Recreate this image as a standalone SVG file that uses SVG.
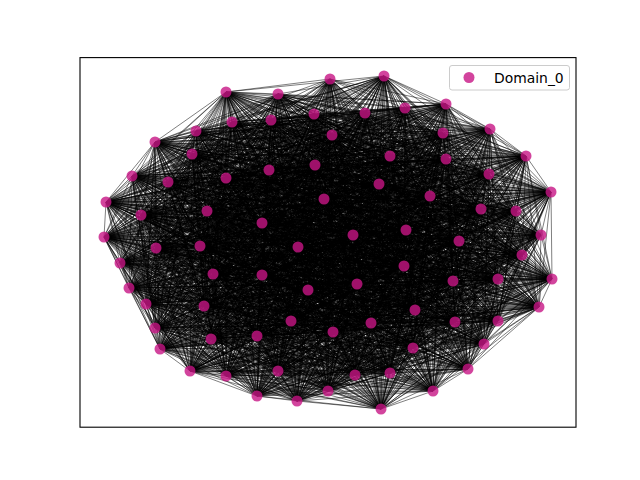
<svg xmlns="http://www.w3.org/2000/svg" width="640" height="480" viewBox="0 0 640 480">
<style>
.e{fill:none;stroke:#000;stroke-opacity:.5;stroke-width:1;stroke-linejoin:round}
.n{fill:#c71585;fill-opacity:.8}
.t{font-family:"DejaVu Sans","Liberation Sans",sans-serif;font-size:13.9px;fill:#000}
</style>
<rect width="640" height="480" fill="#fff"/>
<g id="edges">
<path class="e" d="M330 79 226 92 384 76 278 94 226 92 446 104 278 94 405 108 446 104 365 113 405 108 314 114 365 113 271 120 314 114 232 122 271 120 490 129 232 122 196 131 490 129 332 135 196 131 443 133 332 135 155 142 443 133 192 154 155 142 390 156 192 154 446 159 390 156 526 156 446 159 315 165 526 156 269 170 315 165 489 174 269 170 132 176 489 174 226 178 132 176 168 182 226 178 379 184 168 182 551 192 379 184 430 196 551 192 324 199 430 196 106 202 324 199 481 209 106 202 516 211 481 209 207 211 516 211 141 215 207 211 262 223 141 215 406 230 262 223 353 235 406 230 541 235 353 235 104 237 541 235 459 241 104 237 200 246 459 241 156 248 200 246 298 247 156 248 522 255 298 247 120 263 522 255 404 266 120 263 213 274 404 266 262 275 213 274 552 279 262 275 498 279 552 279 453 281 498 279 357 284 453 281 129 288 357 284 308 290 129 288 146 304 308 290 204 306 146 304 539 307 204 306 415 310 539 307 498 321 415 310 455 322 498 321 371 323 455 322 291 321 371 323 155 328 291 321 333 332 155 328 257 336 333 332 211 339 257 336 484 344 211 339 413 348 484 344 160 349 413 348 468 369 160 349 190 371 468 369 278 371 190 371 355 375 278 371 390 373 355 375 226 376 390 373 433 391 226 376 328 391 433 391 257 396 328 391 297 401 257 396 381 409 297 401 330 79 381 409 384 76"/>
<path class="e" d="M330 79 446 104 384 76 405 108 226 92 365 113 278 94 314 114 446 104 271 120 405 108 232 122 365 113 490 129 314 114 196 131 271 120 332 135 232 122 443 133 490 129 155 142 196 131 192 154 332 135 390 156 443 133 446 159 155 142 526 156 192 154 315 165 390 156 269 170 446 159 489 174 526 156 132 176 315 165 226 178 269 170 168 182 489 174 379 184 132 176 551 192 226 178 430 196 168 182 324 199 379 184 106 202 551 192 481 209 430 196 516 211 324 199 207 211 106 202 141 215 481 209 262 223 516 211 406 230 207 211 353 235 141 215 541 235 262 223 104 237 406 230 459 241 353 235 200 246 541 235 156 248 104 237 298 247 459 241 522 255 200 246 120 263 156 248 404 266 298 247 213 274 522 255 262 275 120 263 552 279 404 266 498 279 213 274 453 281 262 275 357 284 552 279 129 288 498 279 308 290 453 281 146 304 357 284 204 306 129 288 539 307 308 290 415 310 146 304 498 321 204 306 455 322 539 307 371 323 415 310 291 321 498 321 155 328 455 322 333 332 371 323 257 336 291 321 211 339 155 328 484 344 333 332 413 348 257 336 160 349 211 339 468 369 484 344 190 371 413 348 278 371 160 349 355 375 468 369 390 373 190 371 226 376 278 371 433 391 355 375 328 391 390 373 257 396 226 376 297 401 433 391 381 409 328 391 330 79 257 396 384 76 297 401 226 92 381 409 278 94"/>
<path class="e" d="M330 79 365 113 384 76 314 114 226 92 271 120 278 94 232 122 446 104 490 129 405 108 196 131 365 113 332 135 314 114 443 133 271 120 155 142 232 122 192 154 490 129 390 156 196 131 446 159 332 135 526 156 443 133 315 165 155 142 269 170 192 154 489 174 390 156 132 176 446 159 226 178 526 156 168 182 315 165 379 184 269 170 551 192 489 174 430 196 132 176 324 199 226 178 106 202 168 182 481 209 379 184 516 211 551 192 207 211 430 196 141 215 324 199 262 223 106 202 406 230 481 209 353 235 516 211 541 235 207 211 104 237 141 215 459 241 262 223 200 246 406 230 156 248 353 235 298 247 541 235 522 255 104 237 120 263 459 241 404 266 200 246 213 274 156 248 262 275 298 247 552 279 522 255 498 279 120 263 453 281 404 266 357 284 213 274 129 288 262 275 308 290 552 279 146 304 498 279 204 306 453 281 539 307 357 284 415 310 129 288 498 321 308 290 455 322 146 304 371 323 204 306 291 321 539 307 155 328 415 310 333 332 498 321 257 336 455 322 211 339 371 323 484 344 291 321 413 348 155 328 160 349 333 332 468 369 257 336 190 371 211 339 278 371 484 344 355 375 413 348 390 373 160 349 226 376 468 369 433 391 190 371 328 391 278 371 257 396 355 375 297 401 390 373 381 409 226 376 330 79 433 391 384 76 328 391 226 92 257 396 278 94 297 401 446 104 381 409 405 108"/>
<path class="e" d="M330 79 271 120 384 76 232 122 226 92 490 129 278 94 196 131 446 104 332 135 405 108 443 133 365 113 155 142 314 114 192 154 271 120 390 156 232 122 446 159 490 129 526 156 196 131 315 165 332 135 269 170 443 133 489 174 155 142 132 176 192 154 226 178 390 156 168 182 446 159 379 184 526 156 551 192 315 165 430 196 269 170 324 199 489 174 106 202 132 176 481 209 226 178 516 211 168 182 207 211 379 184 141 215 551 192 262 223 430 196 406 230 324 199 353 235 106 202 541 235 481 209 104 237 516 211 459 241 207 211 200 246 141 215 156 248 262 223 298 247 406 230 522 255 353 235 120 263 541 235 404 266 104 237 213 274 459 241 262 275 200 246 552 279 156 248 498 279 298 247 453 281 522 255 357 284 120 263 129 288 404 266 308 290 213 274 146 304 262 275 204 306 552 279 539 307 498 279 415 310 453 281 498 321 357 284 455 322 129 288 371 323 308 290 291 321 146 304 155 328 204 306 333 332 539 307 257 336 415 310 211 339 498 321 484 344 455 322 413 348 371 323 160 349 291 321 468 369 155 328 190 371 333 332 278 371 257 336 355 375 211 339 390 373 484 344 226 376 413 348 433 391 160 349 328 391 468 369 257 396 190 371 297 401 278 371 381 409 355 375 330 79 390 373 384 76 226 376 226 92 433 391 278 94 328 391 446 104 257 396 405 108 297 401 365 113 381 409 314 114"/>
<path class="e" d="M330 79 490 129 384 76 196 131 226 92 332 135 278 94 443 133 446 104 155 142 405 108 192 154 365 113 390 156 314 114 446 159 271 120 526 156 232 122 315 165 490 129 269 170 196 131 489 174 332 135 132 176 443 133 226 178 155 142 168 182 192 154 379 184 390 156 551 192 446 159 430 196 526 156 324 199 315 165 106 202 269 170 481 209 489 174 516 211 132 176 207 211 226 178 141 215 168 182 262 223 379 184 406 230 551 192 353 235 430 196 541 235 324 199 104 237 106 202 459 241 481 209 200 246 516 211 156 248 207 211 298 247 141 215 522 255 262 223 120 263 406 230 404 266 353 235 213 274 541 235 262 275 104 237 552 279 459 241 498 279 200 246 453 281 156 248 357 284 298 247 129 288 522 255 308 290 120 263 146 304 404 266 204 306 213 274 539 307 262 275 415 310 552 279 498 321 498 279 455 322 453 281 371 323 357 284 291 321 129 288 155 328 308 290 333 332 146 304 257 336 204 306 211 339 539 307 484 344 415 310 413 348 498 321 160 349 455 322 468 369 371 323 190 371 291 321 278 371 155 328 355 375 333 332 390 373 257 336 226 376 211 339 433 391 484 344 328 391 413 348 257 396 160 349 297 401 468 369 381 409 190 371 330 79 278 371 384 76 355 375 226 92 390 373 278 94 226 376 446 104 433 391 405 108 328 391 365 113 257 396 314 114 297 401 271 120 381 409 232 122"/>
<path class="e" d="M330 79 332 135 384 76 443 133 226 92 155 142 278 94 192 154 446 104 390 156 405 108 446 159 365 113 526 156 314 114 315 165 271 120 269 170 232 122 489 174 490 129 132 176 196 131 226 178 332 135 168 182 443 133 379 184 155 142 551 192 192 154 430 196 390 156 324 199 446 159 106 202 526 156 481 209 315 165 516 211 269 170 207 211 489 174 141 215 132 176 262 223 226 178 406 230 168 182 353 235 379 184 541 235 551 192 104 237 430 196 459 241 324 199 200 246 106 202 156 248 481 209 298 247 516 211 522 255 207 211 120 263 141 215 404 266 262 223 213 274 406 230 262 275 353 235 552 279 541 235 498 279 104 237 453 281 459 241 357 284 200 246 129 288 156 248 308 290 298 247 146 304 522 255 204 306 120 263 539 307 404 266 415 310 213 274 498 321 262 275 455 322 552 279 371 323 498 279 291 321 453 281 155 328 357 284 333 332 129 288 257 336 308 290 211 339 146 304 484 344 204 306 413 348 539 307 160 349 415 310 468 369 498 321 190 371 455 322 278 371 371 323 355 375 291 321 390 373 155 328 226 376 333 332 433 391 257 336 328 391 211 339 257 396 484 344 297 401 413 348 381 409 160 349 330 79 468 369 384 76 190 371 226 92 278 371 278 94 355 375 446 104 390 373 405 108 226 376 365 113 433 391 314 114 328 391 271 120 257 396 232 122 297 401 490 129 381 409 196 131"/>
<path class="e" d="M330 79 155 142 384 76 192 154 226 92 390 156 278 94 446 159 446 104 526 156 405 108 315 165 365 113 269 170 314 114 489 174 271 120 132 176 232 122 226 178 490 129 168 182 196 131 379 184 332 135 551 192 443 133 430 196 155 142 324 199 192 154 106 202 390 156 481 209 446 159 516 211 526 156 207 211 315 165 141 215 269 170 262 223 489 174 406 230 132 176 353 235 226 178 541 235 168 182 104 237 379 184 459 241 551 192 200 246 430 196 156 248 324 199 298 247 106 202 522 255 481 209 120 263 516 211 404 266 207 211 213 274 141 215 262 275 262 223 552 279 406 230 498 279 353 235 453 281 541 235 357 284 104 237 129 288 459 241 308 290 200 246 146 304 156 248 204 306 298 247 539 307 522 255 415 310 120 263 498 321 404 266 455 322 213 274 371 323 262 275 291 321 552 279 155 328 498 279 333 332 453 281 257 336 357 284 211 339 129 288 484 344 308 290 413 348 146 304 160 349 204 306 468 369 539 307 190 371 415 310 278 371 498 321 355 375 455 322 390 373 371 323 226 376 291 321 433 391 155 328 328 391 333 332 257 396 257 336 297 401 211 339 381 409 484 344 330 79 413 348 384 76 160 349 226 92 468 369 278 94 190 371 446 104 278 371 405 108 355 375 365 113 390 373 314 114 226 376 271 120 433 391 232 122 328 391 490 129 257 396 196 131 297 401 332 135 381 409 443 133"/>
<path class="e" d="M330 79 390 156 384 76 446 159 226 92 526 156 278 94 315 165 446 104 269 170 405 108 489 174 365 113 132 176 314 114 226 178 271 120 168 182 232 122 379 184 490 129 551 192 196 131 430 196 332 135 324 199 443 133 106 202 155 142 481 209 192 154 516 211 390 156 207 211 446 159 141 215 526 156 262 223 315 165 406 230 269 170 353 235 489 174 541 235 132 176 104 237 226 178 459 241 168 182 200 246 379 184 156 248 551 192 298 247 430 196 522 255 324 199 120 263 106 202 404 266 481 209 213 274 516 211 262 275 207 211 552 279 141 215 498 279 262 223 453 281 406 230 357 284 353 235 129 288 541 235 308 290 104 237 146 304 459 241 204 306 200 246 539 307 156 248 415 310 298 247 498 321 522 255 455 322 120 263 371 323 404 266 291 321 213 274 155 328 262 275 333 332 552 279 257 336 498 279 211 339 453 281 484 344 357 284 413 348 129 288 160 349 308 290 468 369 146 304 190 371 204 306 278 371 539 307 355 375 415 310 390 373 498 321 226 376 455 322 433 391 371 323 328 391 291 321 257 396 155 328 297 401 333 332 381 409 257 336 330 79 211 339 384 76 484 344 226 92 413 348 278 94 160 349 446 104 468 369 405 108 190 371 365 113 278 371 314 114 355 375 271 120 390 373 232 122 226 376 490 129 433 391 196 131 328 391 332 135 257 396 443 133 297 401 155 142 381 409 192 154"/>
<path class="e" d="M330 79 526 156 384 76 315 165 226 92 269 170 278 94 489 174 446 104 132 176 405 108 226 178 365 113 168 182 314 114 379 184 271 120 551 192 232 122 430 196 490 129 324 199 196 131 106 202 332 135 481 209 443 133 516 211 155 142 207 211 192 154 141 215 390 156 262 223 446 159 406 230 526 156 353 235 315 165 541 235 269 170 104 237 489 174 459 241 132 176 200 246 226 178 156 248 168 182 298 247 379 184 522 255 551 192 120 263 430 196 404 266 324 199 213 274 106 202 262 275 481 209 552 279 516 211 498 279 207 211 453 281 141 215 357 284 262 223 129 288 406 230 308 290 353 235 146 304 541 235 204 306 104 237 539 307 459 241 415 310 200 246 498 321 156 248 455 322 298 247 371 323 522 255 291 321 120 263 155 328 404 266 333 332 213 274 257 336 262 275 211 339 552 279 484 344 498 279 413 348 453 281 160 349 357 284 468 369 129 288 190 371 308 290 278 371 146 304 355 375 204 306 390 373 539 307 226 376 415 310 433 391 498 321 328 391 455 322 257 396 371 323 297 401 291 321 381 409 155 328 330 79 333 332 384 76 257 336 226 92 211 339 278 94 484 344 446 104 413 348 405 108 160 349 365 113 468 369 314 114 190 371 271 120 278 371 232 122 355 375 490 129 390 373 196 131 226 376 332 135 433 391 443 133 328 391 155 142 257 396 192 154 297 401 390 156 381 409 446 159"/>
<path class="e" d="M330 79 269 170 384 76 489 174 226 92 132 176 278 94 226 178 446 104 168 182 405 108 379 184 365 113 551 192 314 114 430 196 271 120 324 199 232 122 106 202 490 129 481 209 196 131 516 211 332 135 207 211 443 133 141 215 155 142 262 223 192 154 406 230 390 156 353 235 446 159 541 235 526 156 104 237 315 165 459 241 269 170 200 246 489 174 156 248 132 176 298 247 226 178 522 255 168 182 120 263 379 184 404 266 551 192 213 274 430 196 262 275 324 199 552 279 106 202 498 279 481 209 453 281 516 211 357 284 207 211 129 288 141 215 308 290 262 223 146 304 406 230 204 306 353 235 539 307 541 235 415 310 104 237 498 321 459 241 455 322 200 246 371 323 156 248 291 321 298 247 155 328 522 255 333 332 120 263 257 336 404 266 211 339 213 274 484 344 262 275 413 348 552 279 160 349 498 279 468 369 453 281 190 371 357 284 278 371 129 288 355 375 308 290 390 373 146 304 226 376 204 306 433 391 539 307 328 391 415 310 257 396 498 321 297 401 455 322 381 409 371 323 330 79 291 321 384 76 155 328 226 92 333 332 278 94 257 336 446 104 211 339 405 108 484 344 365 113 413 348 314 114 160 349 271 120 468 369 232 122 190 371 490 129 278 371 196 131 355 375 332 135 390 373 443 133 226 376 155 142 433 391 192 154 328 391 390 156 257 396 446 159 297 401 526 156 381 409 315 165"/>
<path class="e" d="M330 79 132 176 384 76 226 178 226 92 168 182 278 94 379 184 446 104 551 192 405 108 430 196 365 113 324 199 314 114 106 202 271 120 481 209 232 122 516 211 490 129 207 211 196 131 141 215 332 135 262 223 443 133 406 230 155 142 353 235 192 154 541 235 390 156 104 237 446 159 459 241 526 156 200 246 315 165 156 248 269 170 298 247 489 174 522 255 132 176 120 263 226 178 404 266 168 182 213 274 379 184 262 275 551 192 552 279 430 196 498 279 324 199 453 281 106 202 357 284 481 209 129 288 516 211 308 290 207 211 146 304 141 215 204 306 262 223 539 307 406 230 415 310 353 235 498 321 541 235 455 322 104 237 371 323 459 241 291 321 200 246 155 328 156 248 333 332 298 247 257 336 522 255 211 339 120 263 484 344 404 266 413 348 213 274 160 349 262 275 468 369 552 279 190 371 498 279 278 371 453 281 355 375 357 284 390 373 129 288 226 376 308 290 433 391 146 304 328 391 204 306 257 396 539 307 297 401 415 310 381 409 498 321 330 79 455 322 384 76 371 323 226 92 291 321 278 94 155 328 446 104 333 332 405 108 257 336 365 113 211 339 314 114 484 344 271 120 413 348 232 122 160 349 490 129 468 369 196 131 190 371 332 135 278 371 443 133 355 375 155 142 390 373 192 154 226 376 390 156 433 391 446 159 328 391 526 156 257 396 315 165 297 401 269 170 381 409 489 174"/>
<path class="e" d="M330 79 168 182 384 76 379 184 226 92 551 192 278 94 430 196 446 104 324 199 405 108 106 202 365 113 481 209 314 114 516 211 271 120 207 211 232 122 141 215 490 129 262 223 196 131 406 230 332 135 353 235 443 133 541 235 155 142 104 237 192 154 459 241 390 156 200 246 446 159 156 248 526 156 298 247 315 165 522 255 269 170 120 263 489 174 404 266 132 176 213 274 226 178 262 275 168 182 552 279 379 184 498 279 551 192 453 281 430 196 357 284 324 199 129 288 106 202 308 290 481 209 146 304 516 211 204 306 207 211 539 307 141 215 415 310 262 223 498 321 406 230 455 322 353 235 371 323 541 235 291 321 104 237 155 328 459 241 333 332 200 246 257 336 156 248 211 339 298 247 484 344 522 255 413 348 120 263 160 349 404 266 468 369 213 274 190 371 262 275 278 371 552 279 355 375 498 279 390 373 453 281 226 376 357 284 433 391 129 288 328 391 308 290 257 396 146 304 297 401 204 306 381 409 539 307 330 79 415 310 384 76 498 321 226 92 455 322 278 94 371 323 446 104 291 321 405 108 155 328 365 113 333 332 314 114 257 336 271 120 211 339 232 122 484 344 490 129 413 348 196 131 160 349 332 135 468 369 443 133 190 371 155 142 278 371 192 154 355 375 390 156 390 373 446 159 226 376 526 156 433 391 315 165 328 391 269 170 257 396 489 174 297 401 132 176 381 409 226 178"/>
<path class="e" d="M330 79 551 192 384 76 430 196 226 92 324 199 278 94 106 202 446 104 481 209 405 108 516 211 365 113 207 211 314 114 141 215 271 120 262 223 232 122 406 230 490 129 353 235 196 131 541 235 332 135 104 237 443 133 459 241 155 142 200 246 192 154 156 248 390 156 298 247 446 159 522 255 526 156 120 263 315 165 404 266 269 170 213 274 489 174 262 275 132 176 552 279 226 178 498 279 168 182 453 281 379 184 357 284 551 192 129 288 430 196 308 290 324 199 146 304 106 202 204 306 481 209 539 307 516 211 415 310 207 211 498 321 141 215 455 322 262 223 371 323 406 230 291 321 353 235 155 328 541 235 333 332 104 237 257 336 459 241 211 339 200 246 484 344 156 248 413 348 298 247 160 349 522 255 468 369 120 263 190 371 404 266 278 371 213 274 355 375 262 275 390 373 552 279 226 376 498 279 433 391 453 281 328 391 357 284 257 396 129 288 297 401 308 290 381 409 146 304 330 79 204 306 384 76 539 307 226 92 415 310 278 94 498 321 446 104 455 322 405 108 371 323 365 113 291 321 314 114 155 328 271 120 333 332 232 122 257 336 490 129 211 339 196 131 484 344 332 135 413 348 443 133 160 349 155 142 468 369 192 154 190 371 390 156 278 371 446 159 355 375 526 156 390 373 315 165 226 376 269 170 433 391 489 174 328 391 132 176 257 396 226 178 297 401 168 182 381 409 379 184"/>
<path class="e" d="M330 79 324 199 384 76 106 202 226 92 481 209 278 94 516 211 446 104 207 211 405 108 141 215 365 113 262 223 314 114 406 230 271 120 353 235 232 122 541 235 490 129 104 237 196 131 459 241 332 135 200 246 443 133 156 248 155 142 298 247 192 154 522 255 390 156 120 263 446 159 404 266 526 156 213 274 315 165 262 275 269 170 552 279 489 174 498 279 132 176 453 281 226 178 357 284 168 182 129 288 379 184 308 290 551 192 146 304 430 196 204 306 324 199 539 307 106 202 415 310 481 209 498 321 516 211 455 322 207 211 371 323 141 215 291 321 262 223 155 328 406 230 333 332 353 235 257 336 541 235 211 339 104 237 484 344 459 241 413 348 200 246 160 349 156 248 468 369 298 247 190 371 522 255 278 371 120 263 355 375 404 266 390 373 213 274 226 376 262 275 433 391 552 279 328 391 498 279 257 396 453 281 297 401 357 284 381 409 129 288 330 79 308 290 384 76 146 304 226 92 204 306 278 94 539 307 446 104 415 310 405 108 498 321 365 113 455 322 314 114 371 323 271 120 291 321 232 122 155 328 490 129 333 332 196 131 257 336 332 135 211 339 443 133 484 344 155 142 413 348 192 154 160 349 390 156 468 369 446 159 190 371 526 156 278 371 315 165 355 375 269 170 390 373 489 174 226 376 132 176 433 391 226 178 328 391 168 182 257 396 379 184 297 401 551 192 381 409 430 196"/>
<path class="e" d="M330 79 481 209 384 76 516 211 226 92 207 211 278 94 141 215 446 104 262 223 405 108 406 230 365 113 353 235 314 114 541 235 271 120 104 237 232 122 459 241 490 129 200 246 196 131 156 248 332 135 298 247 443 133 522 255 155 142 120 263 192 154 404 266 390 156 213 274 446 159 262 275 526 156 552 279 315 165 498 279 269 170 453 281 489 174 357 284 132 176 129 288 226 178 308 290 168 182 146 304 379 184 204 306 551 192 539 307 430 196 415 310 324 199 498 321 106 202 455 322 481 209 371 323 516 211 291 321 207 211 155 328 141 215 333 332 262 223 257 336 406 230 211 339 353 235 484 344 541 235 413 348 104 237 160 349 459 241 468 369 200 246 190 371 156 248 278 371 298 247 355 375 522 255 390 373 120 263 226 376 404 266 433 391 213 274 328 391 262 275 257 396 552 279 297 401 498 279 381 409 453 281 330 79 357 284 384 76 129 288 226 92 308 290 278 94 146 304 446 104 204 306 405 108 539 307 365 113 415 310 314 114 498 321 271 120 455 322 232 122 371 323 490 129 291 321 196 131 155 328 332 135 333 332 443 133 257 336 155 142 211 339 192 154 484 344 390 156 413 348 446 159 160 349 526 156 468 369 315 165 190 371 269 170 278 371 489 174 355 375 132 176 390 373 226 178 226 376 168 182 433 391 379 184 328 391 551 192 257 396 430 196 297 401 324 199 381 409 106 202"/>
<path class="e" d="M330 79 207 211 384 76 141 215 226 92 262 223 278 94 406 230 446 104 353 235 405 108 541 235 365 113 104 237 314 114 459 241 271 120 200 246 232 122 156 248 490 129 298 247 196 131 522 255 332 135 120 263 443 133 404 266 155 142 213 274 192 154 262 275 390 156 552 279 446 159 498 279 526 156 453 281 315 165 357 284 269 170 129 288 489 174 308 290 132 176 146 304 226 178 204 306 168 182 539 307 379 184 415 310 551 192 498 321 430 196 455 322 324 199 371 323 106 202 291 321 481 209 155 328 516 211 333 332 207 211 257 336 141 215 211 339 262 223 484 344 406 230 413 348 353 235 160 349 541 235 468 369 104 237 190 371 459 241 278 371 200 246 355 375 156 248 390 373 298 247 226 376 522 255 433 391 120 263 328 391 404 266 257 396 213 274 297 401 262 275 381 409 552 279 330 79 498 279 384 76 453 281 226 92 357 284 278 94 129 288 446 104 308 290 405 108 146 304 365 113 204 306 314 114 539 307 271 120 415 310 232 122 498 321 490 129 455 322 196 131 371 323 332 135 291 321 443 133 155 328 155 142 333 332 192 154 257 336 390 156 211 339 446 159 484 344 526 156 413 348 315 165 160 349 269 170 468 369 489 174 190 371 132 176 278 371 226 178 355 375 168 182 390 373 379 184 226 376 551 192 433 391 430 196 328 391 324 199 257 396 106 202 297 401 481 209 381 409 516 211"/>
<path class="e" d="M330 79 262 223 384 76 406 230 226 92 353 235 278 94 541 235 446 104 104 237 405 108 459 241 365 113 200 246 314 114 156 248 271 120 298 247 232 122 522 255 490 129 120 263 196 131 404 266 332 135 213 274 443 133 262 275 155 142 552 279 192 154 498 279 390 156 453 281 446 159 357 284 526 156 129 288 315 165 308 290 269 170 146 304 489 174 204 306 132 176 539 307 226 178 415 310 168 182 498 321 379 184 455 322 551 192 371 323 430 196 291 321 324 199 155 328 106 202 333 332 481 209 257 336 516 211 211 339 207 211 484 344 141 215 413 348 262 223 160 349 406 230 468 369 353 235 190 371 541 235 278 371 104 237 355 375 459 241 390 373 200 246 226 376 156 248 433 391 298 247 328 391 522 255 257 396 120 263 297 401 404 266 381 409 213 274 330 79 262 275 384 76 552 279 226 92 498 279 278 94 453 281 446 104 357 284 405 108 129 288 365 113 308 290 314 114 146 304 271 120 204 306 232 122 539 307 490 129 415 310 196 131 498 321 332 135 455 322 443 133 371 323 155 142 291 321 192 154 155 328 390 156 333 332 446 159 257 336 526 156 211 339 315 165 484 344 269 170 413 348 489 174 160 349 132 176 468 369 226 178 190 371 168 182 278 371 379 184 355 375 551 192 390 373 430 196 226 376 324 199 433 391 106 202 328 391 481 209 257 396 516 211 297 401 207 211 381 409 141 215"/>
<path class="e" d="M330 79 353 235 384 76 541 235 226 92 104 237 278 94 459 241 446 104 200 246 405 108 156 248 365 113 298 247 314 114 522 255 271 120 120 263 232 122 404 266 490 129 213 274 196 131 262 275 332 135 552 279 443 133 498 279 155 142 453 281 192 154 357 284 390 156 129 288 446 159 308 290 526 156 146 304 315 165 204 306 269 170 539 307 489 174 415 310 132 176 498 321 226 178 455 322 168 182 371 323 379 184 291 321 551 192 155 328 430 196 333 332 324 199 257 336 106 202 211 339 481 209 484 344 516 211 413 348 207 211 160 349 141 215 468 369 262 223 190 371 406 230 278 371 353 235 355 375 541 235 390 373 104 237 226 376 459 241 433 391 200 246 328 391 156 248 257 396 298 247 297 401 522 255 381 409 120 263 330 79 404 266 384 76 213 274 226 92 262 275 278 94 552 279 446 104 498 279 405 108 453 281 365 113 357 284 314 114 129 288 271 120 308 290 232 122 146 304 490 129 204 306 196 131 539 307 332 135 415 310 443 133 498 321 155 142 455 322 192 154 371 323 390 156 291 321 446 159 155 328 526 156 333 332 315 165 257 336 269 170 211 339 489 174 484 344 132 176 413 348 226 178 160 349 168 182 468 369 379 184 190 371 551 192 278 371 430 196 355 375 324 199 390 373 106 202 226 376 481 209 433 391 516 211 328 391 207 211 257 396 141 215 297 401 262 223 381 409 406 230"/>
<path class="e" d="M330 79 104 237 384 76 459 241 226 92 200 246 278 94 156 248 446 104 298 247 405 108 522 255 365 113 120 263 314 114 404 266 271 120 213 274 232 122 262 275 490 129 552 279 196 131 498 279 332 135 453 281 443 133 357 284 155 142 129 288 192 154 308 290 390 156 146 304 446 159 204 306 526 156 539 307 315 165 415 310 269 170 498 321 489 174 455 322 132 176 371 323 226 178 291 321 168 182 155 328 379 184 333 332 551 192 257 336 430 196 211 339 324 199 484 344 106 202 413 348 481 209 160 349 516 211 468 369 207 211 190 371 141 215 278 371 262 223 355 375 406 230 390 373 353 235 226 376 541 235 433 391 104 237 328 391 459 241 257 396 200 246 297 401 156 248 381 409 298 247 330 79 522 255 384 76 120 263 226 92 404 266 278 94 213 274 446 104 262 275 405 108 552 279 365 113 498 279 314 114 453 281 271 120 357 284 232 122 129 288 490 129 308 290 196 131 146 304 332 135 204 306 443 133 539 307 155 142 415 310 192 154 498 321 390 156 455 322 446 159 371 323 526 156 291 321 315 165 155 328 269 170 333 332 489 174 257 336 132 176 211 339 226 178 484 344 168 182 413 348 379 184 160 349 551 192 468 369 430 196 190 371 324 199 278 371 106 202 355 375 481 209 390 373 516 211 226 376 207 211 433 391 141 215 328 391 262 223 257 396 406 230 297 401 353 235 381 409 541 235"/>
<path class="e" d="M330 79 200 246 384 76 156 248 226 92 298 247 278 94 522 255 446 104 120 263 405 108 404 266 365 113 213 274 314 114 262 275 271 120 552 279 232 122 498 279 490 129 453 281 196 131 357 284 332 135 129 288 443 133 308 290 155 142 146 304 192 154 204 306 390 156 539 307 446 159 415 310 526 156 498 321 315 165 455 322 269 170 371 323 489 174 291 321 132 176 155 328 226 178 333 332 168 182 257 336 379 184 211 339 551 192 484 344 430 196 413 348 324 199 160 349 106 202 468 369 481 209 190 371 516 211 278 371 207 211 355 375 141 215 390 373 262 223 226 376 406 230 433 391 353 235 328 391 541 235 257 396 104 237 297 401 459 241 381 409 200 246 330 79 156 248 384 76 298 247 226 92 522 255 278 94 120 263 446 104 404 266 405 108 213 274 365 113 262 275 314 114 552 279 271 120 498 279 232 122 453 281 490 129 357 284 196 131 129 288 332 135 308 290 443 133 146 304 155 142 204 306 192 154 539 307 390 156 415 310 446 159 498 321 526 156 455 322 315 165 371 323 269 170 291 321 489 174 155 328 132 176 333 332 226 178 257 336 168 182 211 339 379 184 484 344 551 192 413 348 430 196 160 349 324 199 468 369 106 202 190 371 481 209 278 371 516 211 355 375 207 211 390 373 141 215 226 376 262 223 433 391 406 230 328 391 353 235 257 396 541 235 297 401 104 237 381 409 459 241"/>
</g>
<g id="nodes">
<g id="n0"><circle class="n" cx="330" cy="79" r="5.5"/></g>
<g id="n1"><circle class="n" cx="384" cy="76" r="5.5"/></g>
<g id="n2"><circle class="n" cx="226" cy="92" r="5.5"/></g>
<g id="n3"><circle class="n" cx="278" cy="94" r="5.5"/></g>
<g id="n4"><circle class="n" cx="446" cy="104" r="5.5"/></g>
<g id="n5"><circle class="n" cx="405" cy="108" r="5.5"/></g>
<g id="n6"><circle class="n" cx="365" cy="113" r="5.5"/></g>
<g id="n7"><circle class="n" cx="314" cy="114" r="5.5"/></g>
<g id="n8"><circle class="n" cx="271" cy="120" r="5.5"/></g>
<g id="n9"><circle class="n" cx="232" cy="122" r="5.5"/></g>
<g id="n10"><circle class="n" cx="490" cy="129" r="5.5"/></g>
<g id="n11"><circle class="n" cx="196" cy="131" r="5.5"/></g>
<g id="n12"><circle class="n" cx="332" cy="135" r="5.5"/></g>
<g id="n13"><circle class="n" cx="443" cy="133" r="5.5"/></g>
<g id="n14"><circle class="n" cx="155" cy="142" r="5.5"/></g>
<g id="n15"><circle class="n" cx="192" cy="154" r="5.5"/></g>
<g id="n16"><circle class="n" cx="390" cy="156" r="5.5"/></g>
<g id="n17"><circle class="n" cx="446" cy="159" r="5.5"/></g>
<g id="n18"><circle class="n" cx="526" cy="156" r="5.5"/></g>
<g id="n19"><circle class="n" cx="315" cy="165" r="5.5"/></g>
<g id="n20"><circle class="n" cx="269" cy="170" r="5.5"/></g>
<g id="n21"><circle class="n" cx="489" cy="174" r="5.5"/></g>
<g id="n22"><circle class="n" cx="132" cy="176" r="5.5"/></g>
<g id="n23"><circle class="n" cx="226" cy="178" r="5.5"/></g>
<g id="n24"><circle class="n" cx="168" cy="182" r="5.5"/></g>
<g id="n25"><circle class="n" cx="379" cy="184" r="5.5"/></g>
<g id="n26"><circle class="n" cx="551" cy="192" r="5.5"/></g>
<g id="n27"><circle class="n" cx="430" cy="196" r="5.5"/></g>
<g id="n28"><circle class="n" cx="324" cy="199" r="5.5"/></g>
<g id="n29"><circle class="n" cx="106" cy="202" r="5.5"/></g>
<g id="n30"><circle class="n" cx="481" cy="209" r="5.5"/></g>
<g id="n31"><circle class="n" cx="516" cy="211" r="5.5"/></g>
<g id="n32"><circle class="n" cx="207" cy="211" r="5.5"/></g>
<g id="n33"><circle class="n" cx="141" cy="215" r="5.5"/></g>
<g id="n34"><circle class="n" cx="262" cy="223" r="5.5"/></g>
<g id="n35"><circle class="n" cx="406" cy="230" r="5.5"/></g>
<g id="n36"><circle class="n" cx="353" cy="235" r="5.5"/></g>
<g id="n37"><circle class="n" cx="541" cy="235" r="5.5"/></g>
<g id="n38"><circle class="n" cx="104" cy="237" r="5.5"/></g>
<g id="n39"><circle class="n" cx="459" cy="241" r="5.5"/></g>
<g id="n40"><circle class="n" cx="200" cy="246" r="5.5"/></g>
<g id="n41"><circle class="n" cx="156" cy="248" r="5.5"/></g>
<g id="n42"><circle class="n" cx="298" cy="247" r="5.5"/></g>
<g id="n43"><circle class="n" cx="522" cy="255" r="5.5"/></g>
<g id="n44"><circle class="n" cx="120" cy="263" r="5.5"/></g>
<g id="n45"><circle class="n" cx="404" cy="266" r="5.5"/></g>
<g id="n46"><circle class="n" cx="213" cy="274" r="5.5"/></g>
<g id="n47"><circle class="n" cx="262" cy="275" r="5.5"/></g>
<g id="n48"><circle class="n" cx="552" cy="279" r="5.5"/></g>
<g id="n49"><circle class="n" cx="498" cy="279" r="5.5"/></g>
<g id="n50"><circle class="n" cx="453" cy="281" r="5.5"/></g>
<g id="n51"><circle class="n" cx="357" cy="284" r="5.5"/></g>
<g id="n52"><circle class="n" cx="129" cy="288" r="5.5"/></g>
<g id="n53"><circle class="n" cx="308" cy="290" r="5.5"/></g>
<g id="n54"><circle class="n" cx="146" cy="304" r="5.5"/></g>
<g id="n55"><circle class="n" cx="204" cy="306" r="5.5"/></g>
<g id="n56"><circle class="n" cx="539" cy="307" r="5.5"/></g>
<g id="n57"><circle class="n" cx="415" cy="310" r="5.5"/></g>
<g id="n58"><circle class="n" cx="498" cy="321" r="5.5"/></g>
<g id="n59"><circle class="n" cx="455" cy="322" r="5.5"/></g>
<g id="n60"><circle class="n" cx="371" cy="323" r="5.5"/></g>
<g id="n61"><circle class="n" cx="291" cy="321" r="5.5"/></g>
<g id="n62"><circle class="n" cx="155" cy="328" r="5.5"/></g>
<g id="n63"><circle class="n" cx="333" cy="332" r="5.5"/></g>
<g id="n64"><circle class="n" cx="257" cy="336" r="5.5"/></g>
<g id="n65"><circle class="n" cx="211" cy="339" r="5.5"/></g>
<g id="n66"><circle class="n" cx="484" cy="344" r="5.5"/></g>
<g id="n67"><circle class="n" cx="413" cy="348" r="5.5"/></g>
<g id="n68"><circle class="n" cx="160" cy="349" r="5.5"/></g>
<g id="n69"><circle class="n" cx="468" cy="369" r="5.5"/></g>
<g id="n70"><circle class="n" cx="190" cy="371" r="5.5"/></g>
<g id="n71"><circle class="n" cx="278" cy="371" r="5.5"/></g>
<g id="n72"><circle class="n" cx="355" cy="375" r="5.5"/></g>
<g id="n73"><circle class="n" cx="390" cy="373" r="5.5"/></g>
<g id="n74"><circle class="n" cx="226" cy="376" r="5.5"/></g>
<g id="n75"><circle class="n" cx="433" cy="391" r="5.5"/></g>
<g id="n76"><circle class="n" cx="328" cy="391" r="5.5"/></g>
<g id="n77"><circle class="n" cx="257" cy="396" r="5.5"/></g>
<g id="n78"><circle class="n" cx="297" cy="401" r="5.5"/></g>
<g id="n79"><circle class="n" cx="381" cy="409" r="5.5"/></g>
</g>
<rect x="80" y="57.6" width="496" height="369.6" fill="none" stroke="#000" stroke-width="1.1"/>
<g id="legend">
<rect x="449.5" y="65.5" width="120" height="24.5" rx="2.5" fill="#fff" fill-opacity="0.8" stroke="#ccc" stroke-width="1"/>
<circle class="n" cx="469" cy="77.5" r="5.5"/>
<text class="t" x="494" y="82.5">Domain_0</text>
</g>
</svg>
